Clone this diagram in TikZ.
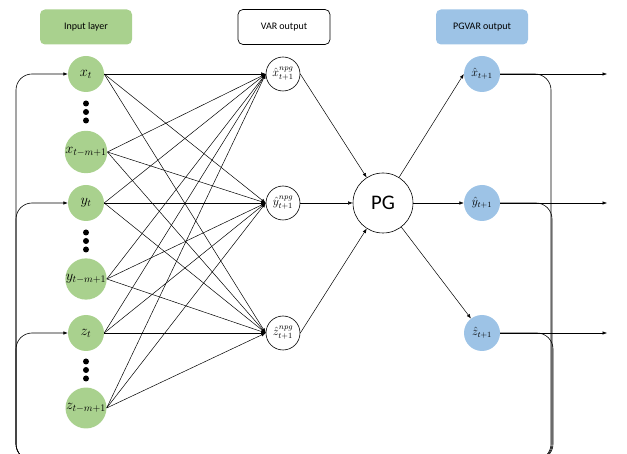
\documentclass[tikz,border=0pt]{standalone}
\usepackage{amsmath}
\usepackage{amssymb}
\usepackage{fontspec}
\setmainfont{Carlito}
\usetikzlibrary{positioning,arrows.meta}
\definecolor{ingreen}{HTML}{A9D18E}
\definecolor{outblue}{HTML}{9DC3E6}
\tikzset{x=1pt, y=-1pt, >={Latex[length=4.5pt,width=3.5pt]},
  innode/.style={circle, fill=ingreen, minimum size=36pt, inner sep=0pt, font=\Large},
  varnode/.style={circle, draw, line width=0.6pt, minimum size=34pt, inner sep=0pt, font=\large},
  outnode/.style={circle, fill=outblue, minimum size=36pt, inner sep=0pt, font=\large},
  header/.style={rounded corners=5pt, minimum width=92pt, minimum height=35pt, font=\normalsize},
  dotnode/.style={circle, fill, inner sep=0pt, minimum size=6pt},
  link/.style={->, line width=0.5pt},
  loopback/.style={->, line width=0.6pt, rounded corners=16pt}}

\begin{document}
\begin{tikzpicture}
             \useasboundingbox (0,0) rectangle (627,454);

             \node (InHead) [header, fill=ingreen] at (86,27) {Input layer};
             \node (VarHead) [header, draw, line width=0.7pt] at (284,27) {VAR output};
             \node (OutHead) [header, fill=outblue] at (482,27) {PGVAR output};

             \node (X) [innode] at (86,74) {$x_t$};
             \node (Xm) [innode] at (86,152) {$x_{t-m+1}$};
             \node (Y) [innode] at (86,203) {$y_t$};
             \node (Ym) [innode] at (86,279) {$y_{t-m+1}$};
             \node (Z) [innode] at (86,333) {$z_t$};
             \node (Zm) [innode] at (86,408) {$z_{t-m+1}$};

             \foreach \g/\c in {x/112, y/241, z/370}
               \foreach \k in {-1,0,1}
                 \node (dot\g\k) [dotnode] at (86,{\c+8.5*\k}) {};

             \node (Xv) [varnode] at (283,74) {${\hat{x}}^{npg}_{t+1}$};
             \node (Yv) [varnode] at (283,203) {${\hat{y}}^{npg}_{t+1}$};
             \node (Zv) [varnode] at (283,333) {${\hat{z}}^{npg}_{t+1}$};

             \node (PG) [circle, draw, line width=0.6pt, minimum size=60pt, font=\huge] at (383,203) {PG};

             \node (Xh) [outnode] at (482,74) {$\hat{x}_{t+1}$};
             \node (Yh) [outnode] at (482,203) {$\hat{y}_{t+1}$};
             \node (Zh) [outnode] at (482,333) {$\hat{z}_{t+1}$};

             \coordinate (Xend) at (607,74);
             \coordinate (Yend) at (607,203);
             \coordinate (Zend) at (607,333);

             \foreach \i in {X,Xm,Y,Ym,Z,Zm}
               \foreach \o in {Xv,Yv,Zv}
                 \draw [link] (\i.east) to (\o.west);

             \draw [link] (Xv.east) to (PG);
             \draw [link] (Yv.east) to (PG.west);
             \draw [link] (Zv.east) to (PG);

             \draw [link] (PG) to (Xh.west);
             \draw [link] (PG.east) to (Yh.west);
             \draw [link] (PG) to (Zh);

             \draw [link] (Xh.east) to (Xend);
             \draw [link] (Yh.east) to (Yend);
             \draw [link] (Zh.east) to (Zend);

             \draw [loopback] (Xh.east) -- (551,74) -- (551,460) -- (16,460) -- (16,74) -- (X.west);
             \draw [loopback] (Yh.east) -- (552,203) -- (552,460) -- (16,460) -- (16,203) -- (Y.west);
             \draw [loopback] (Zh.east) -- (553,333) -- (553,460) -- (16,460) -- (16,333) -- (Z.west);
          \end{tikzpicture}
\end{document}
